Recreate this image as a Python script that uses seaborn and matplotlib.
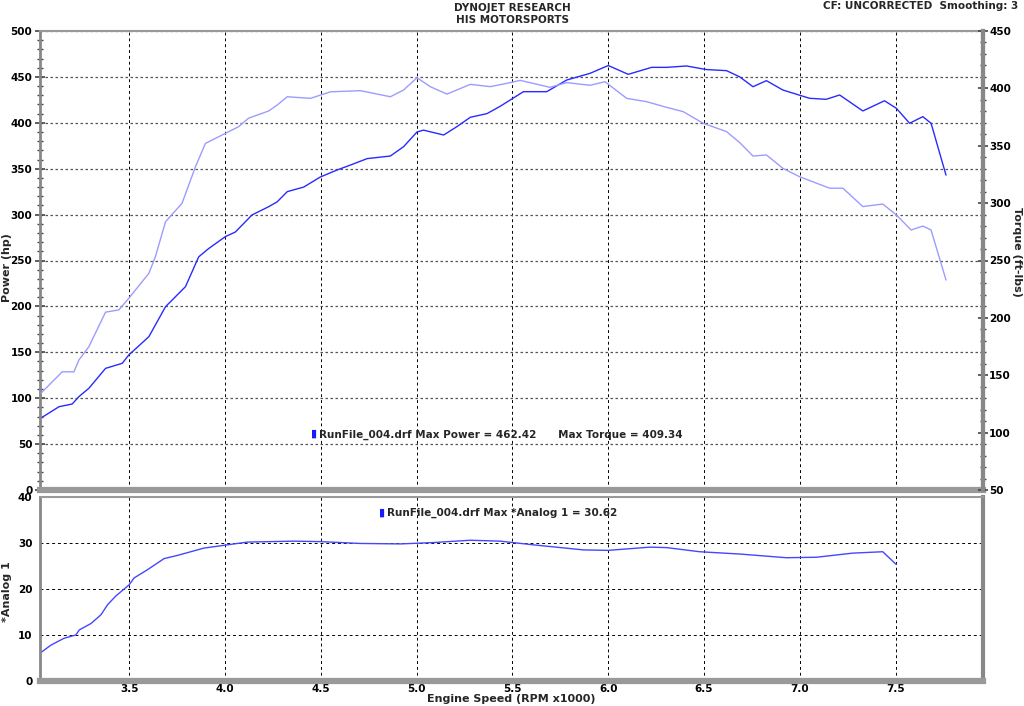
import matplotlib
matplotlib.use("Agg")
import matplotlib.pyplot as plt
import seaborn as sns
from matplotlib.ticker import MultipleLocator

# values
power_rpm = [3.04, 3.134, 3.203, 3.238, 3.290, 3.377, 3.464, 3.498, 3.603, 3.690,
             3.794, 3.863, 3.915, 4.002, 4.054, 4.141, 4.228, 4.273, 4.325, 4.411,
             4.498, 4.585, 4.655, 4.742, 4.863, 4.932, 5.002, 5.036, 5.141, 5.210,
             5.280, 5.367, 5.436, 5.488, 5.557, 5.679, 5.783, 5.905, 6.000, 6.104,
             6.226, 6.304, 6.408, 6.512, 6.617, 6.686, 6.755, 6.825, 6.911, 7.050,
             7.137, 7.207, 7.328, 7.441, 7.503, 7.572, 7.641, 7.684, 7.762]
power_hp = [78.4, 90.7, 93.7, 101.7, 110.8, 132.5, 138, 147, 167, 199.7,
            221.5, 254, 263, 276, 281, 299.6, 308.6, 314, 325, 330,
            341, 348.6, 354, 361, 363.8, 374, 390, 392, 386.7, 395.8,
            406, 410, 418, 424.8, 433.9, 433.9, 446.6, 453.9, 462.4, 452.8,
            460.4, 460.4, 461.9, 458, 456.8, 450, 439.3, 445.9, 435.7, 426.7,
            425.6, 430.3, 412.9, 424, 415.8, 399.5, 406.7, 399.5, 343]

torque_rpm = [3.04, 3.065, 3.151, 3.212, 3.238, 3.290, 3.377, 3.446, 3.498, 3.603,
              3.637, 3.690, 3.776, 3.846, 3.898, 4.002, 4.071, 4.123, 4.228, 4.273,
              4.325, 4.446, 4.551, 4.707, 4.863, 4.932, 5.002, 5.071, 5.158, 5.280,
              5.384, 5.488, 5.540, 5.696, 5.783, 5.905, 5.983, 6.096, 6.200, 6.304,
              6.391, 6.495, 6.617, 6.686, 6.755, 6.825, 6.911, 6.998, 7.155, 7.224,
              7.328, 7.432, 7.503, 7.580, 7.641, 7.684, 7.762]
torque_ftlb = [134.3, 138.6, 153, 153, 163.3, 174.9, 205, 206.9, 217, 238.8,
               253.3, 283.8, 299.8, 331.7, 352, 360.8, 366.6, 374, 380.3, 385.5,
               392.7, 391.3, 397, 398, 392.7, 398.6, 409.3, 401.5, 395, 403.5,
               401.5, 405, 407, 400.9, 405, 402.7, 405.8, 391.3, 388.4, 383.5,
               379.7, 369.6, 362.3, 352.7, 341, 342, 330.3, 323, 313, 313,
               297, 299.2, 289.7, 276.6, 280, 276.6, 233]

analog_rpm = [3.04, 3.092, 3.161, 3.222, 3.240, 3.301, 3.353, 3.388, 3.431, 3.500,
              3.526, 3.596, 3.682, 3.752, 3.891, 4.013, 4.117, 4.359, 4.498, 4.707,
              4.915, 5.089, 5.280, 5.436, 5.609, 5.870, 6.000, 6.217, 6.304, 6.477,
              6.686, 6.929, 7.085, 7.276, 7.432, 7.503]
analog_val = [6.2, 7.8, 9.3, 10.0, 11.1, 12.5, 14.4, 16.6, 18.5, 20.9,
              22.4, 24.2, 26.6, 27.3, 28.9, 29.6, 30.2, 30.4, 30.3, 29.9,
              29.8, 30.1, 30.6, 30.4, 29.6, 28.5, 28.4, 29.1, 29.0, 28.1,
              27.6, 26.8, 26.9, 27.8, 28.1, 25.3]

sns.set_style("white")
plt.rcParams["font.family"] = ["DejaVu Sans"]

W, H = 1024, 706
fig = plt.figure(figsize=(W / 100, H / 100), dpi=100)
ax = fig.add_axes([40 / W, 1 - 490 / H, 943 / W, 459 / H])
ax2 = ax.twinx()
axb = fig.add_axes([40 / W, 1 - 681 / H, 943 / W, 184 / H])

line_kw = dict(linewidth=1.0, sort=False, estimator=None,
               solid_joinstyle="round", solid_capstyle="round")
sns.lineplot(x=power_rpm, y=power_hp, ax=ax, color="#2a2aff", **line_kw)
sns.lineplot(x=torque_rpm, y=torque_ftlb, ax=ax2, color="#9c9cff", **line_kw)
sns.lineplot(x=analog_rpm, y=analog_val, ax=axb, color="#4646ff", **line_kw)

xmin, xmax = 3.035, 7.955
for a in (ax, ax2, axb):
    a.set_xlim(xmin, xmax)
    a.xaxis.set_major_locator(MultipleLocator(0.5))
    a.set_xlabel("")
    a.set_ylabel("")

ax.set_ylim(0, 500)
ax2.set_ylim(50, 450)
axb.set_ylim(0, 40)
ax.yaxis.set_major_locator(MultipleLocator(50))
ax.yaxis.set_minor_locator(MultipleLocator(10))
ax2.yaxis.set_major_locator(MultipleLocator(50))
ax2.yaxis.set_minor_locator(MultipleLocator(10))
axb.yaxis.set_major_locator(MultipleLocator(10))
axb.yaxis.set_minor_locator(MultipleLocator(2))
axb.xaxis.set_minor_locator(MultipleLocator(0.1))

# grids
ax.xaxis.grid(True, color="black", linestyle=(0, (3, 3)), linewidth=0.7)
ax.yaxis.grid(True, color="#555555", linestyle=(0, (2, 2)), linewidth=0.9)
axb.grid(True, color="black", linestyle=(0, (3, 3)), linewidth=0.7)
ax.set_axisbelow(True)
axb.set_axisbelow(True)

tick_font = dict(labelsize=7.5, colors="black")
ax.tick_params(axis="x", length=0, labelbottom=False)
ax.tick_params(axis="y", which="major", direction="inout", length=7, width=1.2,
               color="#444444", pad=2, **tick_font)
ax.tick_params(axis="y", which="minor", direction="inout", length=5, width=1.0,
               color="#444444")
ax2.tick_params(axis="y", which="major", direction="inout", length=7, width=1.2,
                color="#444444", pad=1, **tick_font)
ax2.tick_params(axis="y", which="minor", direction="inout", length=5, width=1.0,
                color="#444444")
axb.tick_params(axis="y", which="major", direction="inout", length=7, width=1.2,
                color="#444444", pad=2, **tick_font)
axb.tick_params(axis="y", which="minor", direction="inout", length=5, width=1.0,
                color="#444444")
axb.tick_params(axis="x", which="major", direction="in", length=5, width=1.2,
                color="#444444", pad=2, **tick_font)
axb.tick_params(axis="x", which="minor", direction="in", length=4, width=1.0,
                color="#444444")
for a in (ax, ax2, axb):
    for lab in a.get_yticklabels() + a.get_xticklabels():
        lab.set_fontweight("bold")

# frame: thin grey top/left, heavy shadow right/bottom
for a in (ax, axb):
    a.spines["top"].set(color="#999999", linewidth=1.5)
    a.spines["left"].set(color="#888888", linewidth=2.0)
    a.spines["right"].set(color="#888888", linewidth=3.0)
    a.spines["bottom"].set(color="#999999", linewidth=4.5)
for s in ("top", "left", "bottom"):
    ax2.spines[s].set_visible(False)
ax2.spines["right"].set(color="#888888", linewidth=3.0)

lab_kw = dict(fontsize=8, fontweight="bold", ha="center", va="center")
fig.text(7 / W, 1 - 268 / H, "Power (hp)", rotation=90, **lab_kw)
fig.text(1017 / W, 1 - 252 / H, "Torque (ft-lbs)", rotation=-90, **lab_kw)
fig.text(7 / W, 1 - 592 / H, "*Analog 1", rotation=90, **lab_kw)
fig.text(511 / W, 1 - 699 / H, "Engine Speed (RPM x1000)", **lab_kw)

fig.text(0.5, 1 - 8 / H, "DYNOJET RESEARCH", ha="center", va="center",
         fontsize=7.5, fontweight="bold")
fig.text(0.5, 1 - 20 / H, "HIS MOTORSPORTS", ha="center", va="center",
         fontsize=7.5, fontweight="bold")
fig.text(1018 / W, 1 - 6 / H, "CF: UNCORRECTED  Smoothing: 3", ha="right",
         va="center", fontsize=7.5, fontweight="bold")

# run file annotations
ax.text(4.48, 61, "\u25ae", color="#1a1aff", fontsize=8, ha="right", va="center")
ax.text(4.49, 60, "RunFile_004.drf Max Power = 462.42      Max Torque = 409.34",
        fontsize=7.5, fontweight="bold", va="center")
axb.text(4.835, 36.7, "\u25ae", color="#1a1aff", fontsize=8, ha="right", va="center")
axb.text(4.845, 36.5, "RunFile_004.drf Max *Analog 1 = 30.62",
         fontsize=7.5, fontweight="bold", va="center")

fig.savefig("out.png", dpi=100, facecolor="white")
